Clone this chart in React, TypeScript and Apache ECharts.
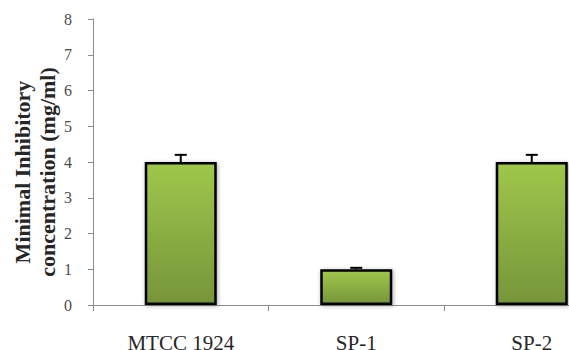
import React, { useEffect, useRef } from "react";
import * as echarts from "echarts";

const categories = ["MTCC 1924", "SP-1", "SP-2"];
const values = [4, 1, 4];
const errors = [0.2, 0.04, 0.2];
const yTitleLines = ["Minimal Inhibitory", "concentration (mg/ml)"];

export default function App() {
  const ref = useRef<HTMLDivElement>(null);
  useEffect(() => {
    if (!ref.current) return;
    const chart = echarts.init(ref.current, null, { renderer: "svg" });
    const serif = "'Liberation Serif', 'Times New Roman', serif";
    chart.setOption({
      animation: false,
      textStyle: { fontFamily: serif },
      grid: { left: 93, top: 19, bottom: 45, right: 0.5, containLabel: false, outerBoundsMode: "none" },
      xAxis: {
        type: "category",
        data: categories,
        boundaryGap: true,
        axisLine: { lineStyle: { color: "#8c8c8c", width: 1 } },
        axisTick: { show: true, length: 6, alignWithLabel: false, lineStyle: { color: "#8c8c8c" } },
        axisLabel: { color: "#262626", fontFamily: serif, fontSize: 21, margin: 27 },
        splitLine: { show: false },
      },
      yAxis: {
        type: "value",
        min: 0,
        max: 8,
        interval: 1,
        axisLine: { show: true, lineStyle: { color: "#8c8c8c", width: 1 } },
        axisTick: { show: true, length: 5, inside: false, lineStyle: { color: "#8c8c8c" } },
        axisLabel: { color: "#4d4d4d", fontFamily: serif, fontSize: 16, margin: 21 },
        splitLine: { show: false },
      },
      graphic: [
        {
          type: "text",
          x: 35,
          y: 172,
          rotation: Math.PI / 2,
          style: {
            text: yTitleLines.join("\n"),
            fontFamily: serif,
            fontWeight: "bold",
            fontSize: 22,
            fill: "#262626",
            align: "center",
            verticalAlign: "middle",
            lineHeight: 25,
          },
        },
      ],
      series: [
        {
          type: "bar",
          data: values,
          barWidth: 72,
          itemStyle: {
            color: new echarts.graphic.LinearGradient(0, 0, 0, 1, [
              { offset: 0, color: "#9fc74b" },
              { offset: 1, color: "#76953a" },
            ]),
            borderColor: "#000000",
            borderWidth: 2.5,
            shadowBlur: 4,
            shadowColor: "rgba(0,0,0,0.35)",
            shadowOffsetX: 1,
            shadowOffsetY: 1,
          },
          z: 2,
        },
        {
          type: "custom",
          data: values.map((v, i) => [i, v, errors[i]]),
          z: 3,
          renderItem: (params: any, api: any) => {
            const i = api.value(0);
            const v = api.value(1);
            const e = api.value(2);
            const base = api.coord([i, v]);
            const top = api.coord([i, v + e]);
            const half = 6;
            const style = { stroke: "#000000", lineWidth: 2 };
            return {
              type: "group",
              children: [
                { type: "line", shape: { x1: base[0], y1: base[1], x2: top[0], y2: top[1] }, style },
                { type: "line", shape: { x1: top[0] - half, y1: top[1], x2: top[0] + half, y2: top[1] }, style },
              ],
            };
          },
        },
      ],
    });
    return () => chart.dispose();
  }, []);
  return (
    <div style={{ position: "absolute", left: 0, top: 0, width: 569, height: 350, overflow: "hidden", background: "#fff" }}>
      <div ref={ref} style={{ width: 620, height: 350 }} />
    </div>
  );
}
